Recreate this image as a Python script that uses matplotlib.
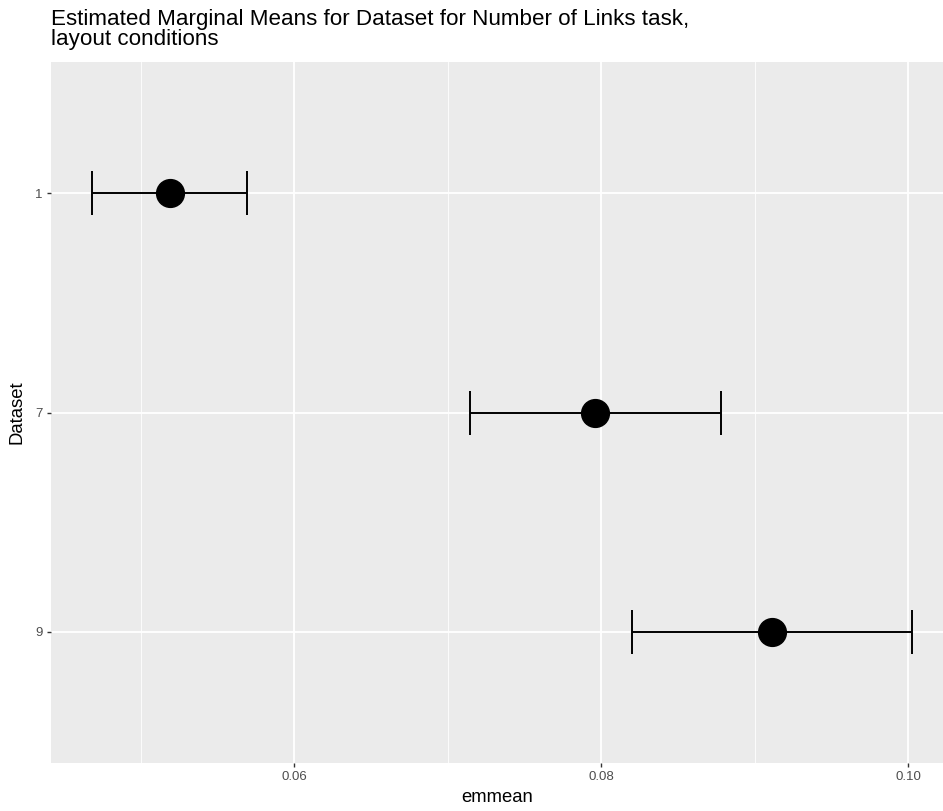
import numpy as np
import matplotlib
matplotlib.use("Agg")
from matplotlib import pyplot as plt
from matplotlib.ticker import MultipleLocator

plt.rcParams['font.family'] = ['Liberation Sans', 'DejaVu Sans']

# values
datasets = ["1", "7", "9"]
emmean = [0.05192, 0.07961, 0.09116]
lower_cl = [0.04684, 0.07147, 0.08204]
upper_cl = [0.05694, 0.08782, 0.10028]

W, H = 943, 811
fig = plt.figure(figsize=(W / 100, H / 100), dpi=100)
# panel in pixel coords: left 51, top 62, right 943, bottom 763
ax = fig.add_axes([51 / W, (H - 763) / H, (W - 51) / W, (763 - 62) / H])

ax.set_facecolor("#EBEBEB")
for s in ax.spines.values():
    s.set_visible(False)

ypos = np.arange(len(datasets))
emmean = np.array(emmean)
xerr = [emmean - np.array(lower_cl), np.array(upper_cl) - emmean]

ax.errorbar(emmean, ypos, xerr=xerr, fmt="none", ecolor="black",
            elinewidth=1.4, capsize=15.8, capthick=1.4, zorder=3)
ax.plot(emmean, ypos, "o", color="black", markersize=20, zorder=4)

lo = min(lower_cl); hi = max(upper_cl)
pad = 0.05 * (hi - lo)
ax.set_xlim(lo - pad, 0.10228)
ax.set_ylim(len(datasets) - 1 + 0.6, -0.6)

ax.set_yticks(ypos)
ax.set_yticklabels(datasets)
ax.xaxis.set_minor_locator(MultipleLocator(0.01))
ax.set_xticks([0.06, 0.08, 0.10])
ax.set_xticklabels(["0.06", "0.08", "0.10"])

ax.grid(True, which="major", color="white", linewidth=1.3)
ax.grid(True, which="minor", axis="x", color="white", linewidth=0.6)
ax.set_axisbelow(True)

ax.tick_params(axis="both", which="major", length=3, width=1, color="#333333",
               labelsize=9.5, labelcolor="#4D4D4D", pad=3)
ax.tick_params(axis="both", which="minor", length=0)

ax.set_xlabel("emmean", fontsize=13.3, color="black", labelpad=4)
ax.set_ylabel("Dataset", fontsize=13.3, color="black", labelpad=7)

fig.text(51 / W, 1 - 9 / H,
         "Estimated Marginal Means for Dataset for Number of Links task,\nlayout conditions",
         fontsize=16.1, ha="left", va="top", linespacing=0.92)

fig.savefig("out.png", dpi=100)
